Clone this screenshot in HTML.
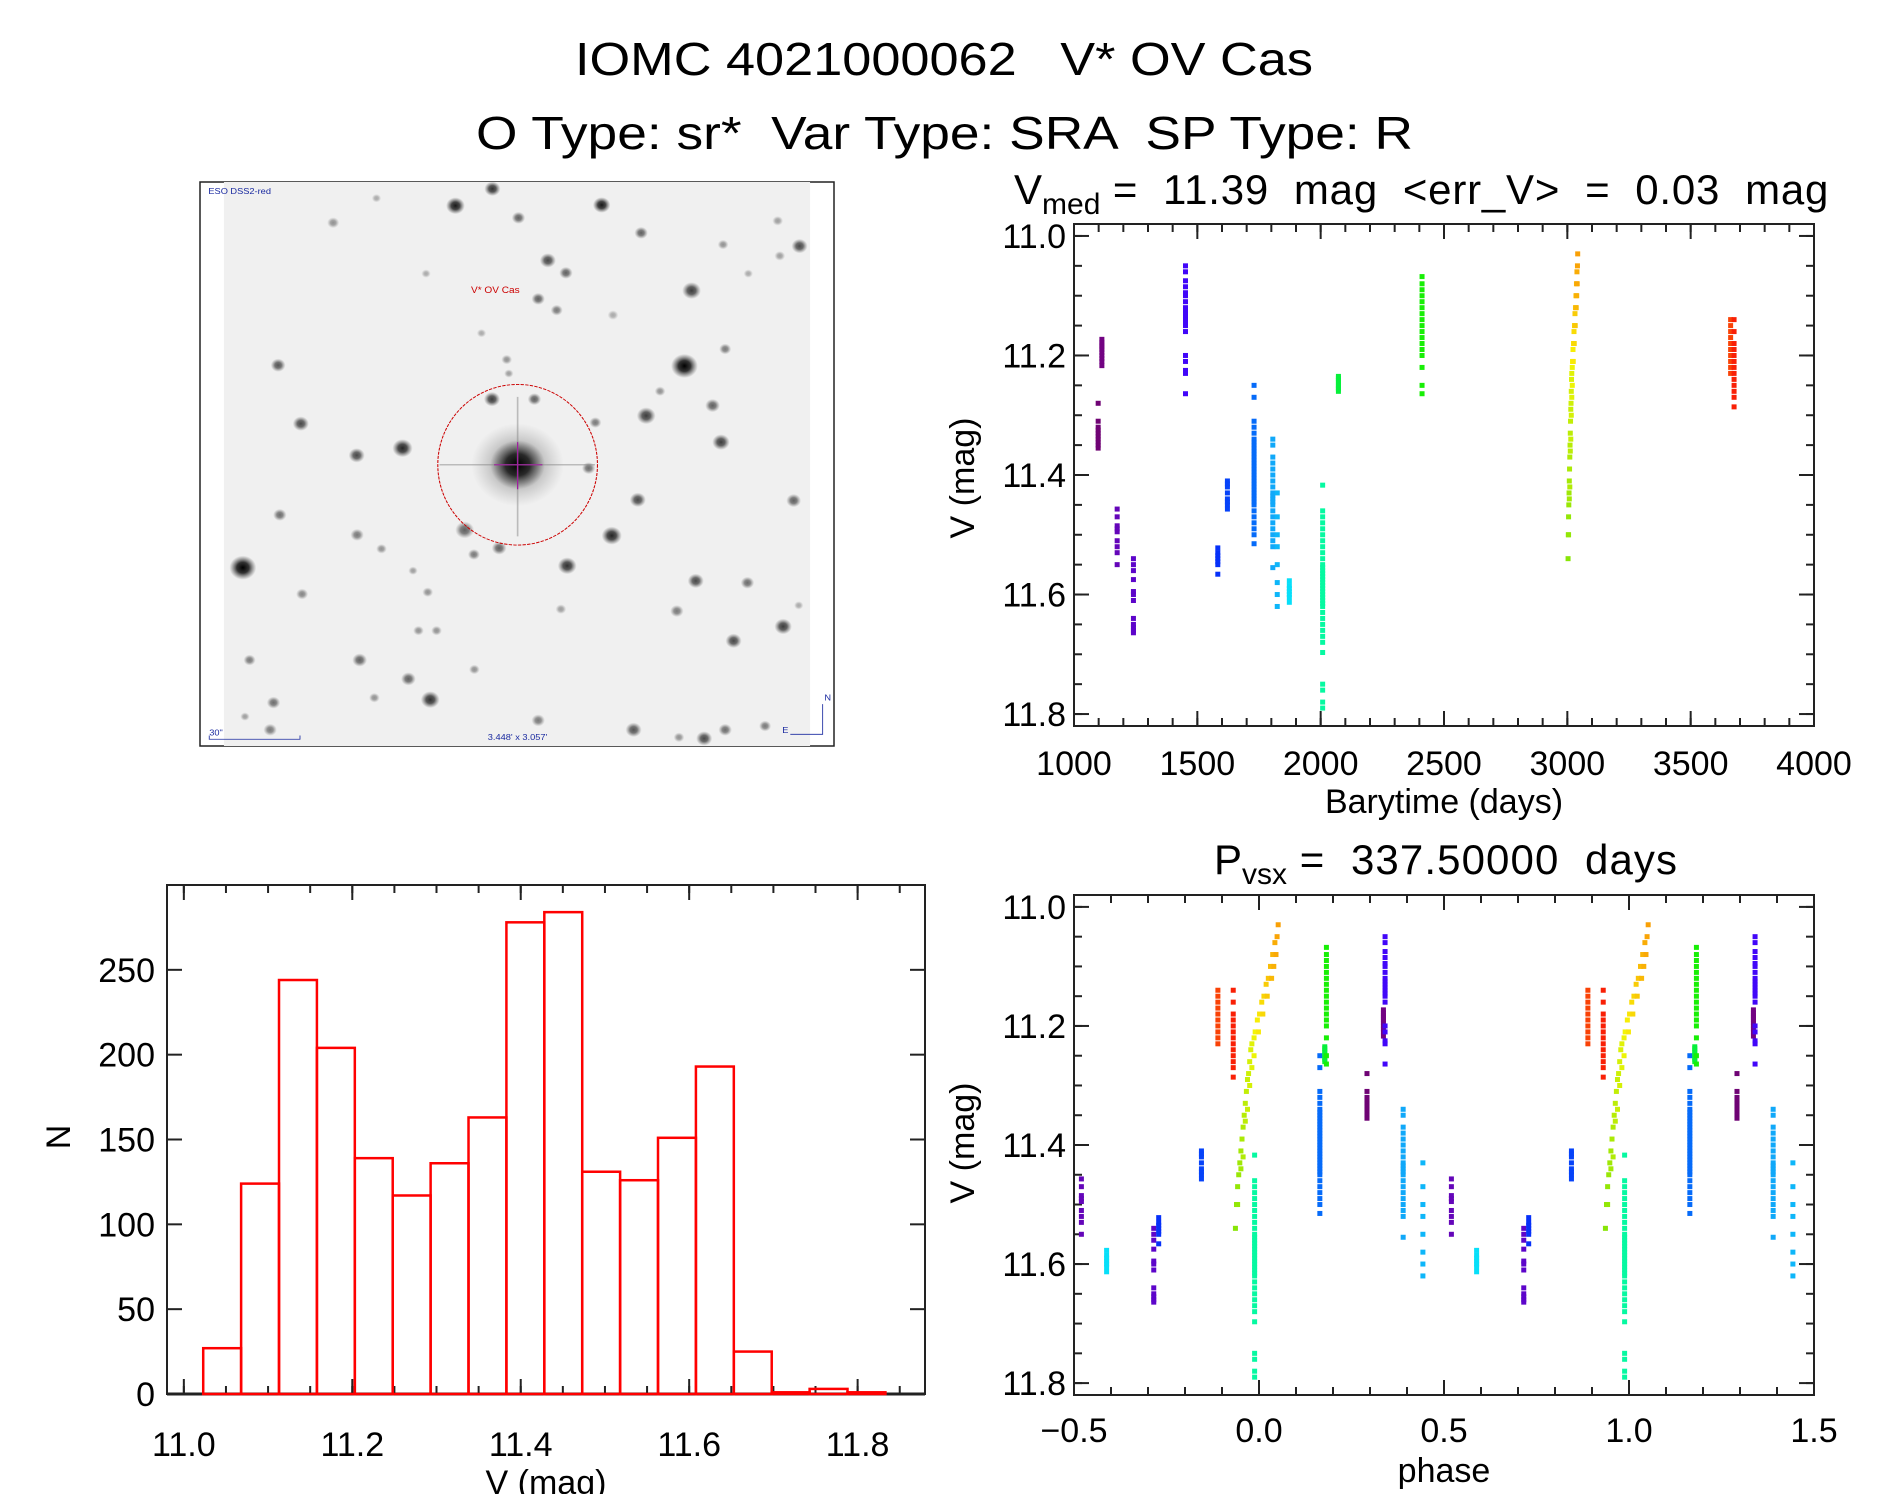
<!DOCTYPE html>
<html><head><meta charset="utf-8"><style>
html,body{margin:0;padding:0;background:#fff;}
svg{display:block;font-family:"Liberation Sans","DejaVu Sans",sans-serif;}
text{white-space:pre;}
</style></head><body>
<svg id="root" width="1889" height="1494" viewBox="0 0 1889 1494" xmlns="http://www.w3.org/2000/svg" xml:space="preserve">
<defs>
<radialGradient id="star"><stop offset="0" stop-color="#000" stop-opacity="1"/><stop offset="0.45" stop-color="#111" stop-opacity="0.85"/><stop offset="1" stop-color="#444" stop-opacity="0"/></radialGradient>
</defs>
<text x="575" y="75" font-size="46" textLength="738" lengthAdjust="spacingAndGlyphs">IOMC 4021000062   V* OV Cas</text>
<text x="476" y="149" font-size="46" textLength="937" lengthAdjust="spacingAndGlyphs">O Type: sr*  Var Type: SRA  SP Type: R</text>
<g id="img"></g>
<g id="lc"></g>
<g id="ph"></g>
<g id="hist"></g>
</svg>
<script>
// ---------- data ----------
const clusterTimes = [1098,1113,1175,1241,1452,1583,1622,1730,1806,1824,1873,2008,2072,2411,3662,3676];
const clusterMags = [
 [11.28,11.31,11.32,11.325,11.33,11.335,11.34,11.345,11.35,11.355],
 [11.173,11.178,11.182,11.186,11.19,11.195,11.2,11.205,11.21,11.217],
 [11.457,11.47,11.485,11.49,11.495,11.51,11.52,11.53,11.55],
 [11.54,11.55,11.56,11.575,11.595,11.6,11.61,11.64,11.65,11.655,11.66,11.664],
 [11.05,11.06,11.075,11.085,11.095,11.1,11.11,11.12,11.125,11.13,11.135,11.14,11.145,11.15,11.16,11.2,11.21,11.225,11.23,11.264],
 [11.522,11.53,11.535,11.54,11.545,11.55,11.566],
 [11.41,11.415,11.42,11.43,11.44,11.445,11.45,11.457],
 [11.25,11.27,11.31,11.32,11.33,11.34,11.345,11.35,11.355,11.36,11.365,11.37,11.375,11.38,11.385,11.39,11.395,11.40,11.405,11.41,11.415,11.42,11.425,11.43,11.435,11.44,11.445,11.45,11.46,11.47,11.48,11.49,11.50,11.515],
 [11.34,11.35,11.37,11.38,11.39,11.40,11.41,11.42,11.43,11.435,11.44,11.445,11.45,11.46,11.47,11.48,11.49,11.50,11.51,11.52,11.555],
 [11.43,11.47,11.5,11.52,11.55,11.58,11.6,11.62],
 [11.577,11.585,11.59,11.595,11.6,11.605,11.613],
 [11.417,11.46,11.47,11.48,11.49,11.5,11.51,11.52,11.53,11.54,11.55,11.555,11.56,11.565,11.57,11.575,11.58,11.585,11.59,11.595,11.6,11.605,11.61,11.615,11.62,11.63,11.64,11.65,11.66,11.67,11.68,11.697,11.75,11.76,11.78,11.79],
 [11.235,11.238,11.242,11.245,11.25,11.253,11.256,11.26],
 [11.068,11.08,11.09,11.1,11.11,11.12,11.13,11.14,11.15,11.16,11.17,11.18,11.19,11.2,11.22,11.25,11.264],
 [11.14,11.15,11.16,11.17,11.18,11.19,11.2,11.21,11.22,11.23],
 [11.14,11.16,11.18,11.19,11.2,11.21,11.22,11.23,11.24,11.25,11.26,11.27,11.286]
];
const rampTimes = [3003,3004,3005,3006,3007,3008,3009,3010,3011,3012,3013,3014,3015,3016,3017,3018,3020,3021,3023,3025,3027,3029,3031,3033,3035,3037,3039,3041,3042,3005,3008,3012,3016,3020,3024,3028,3032,3036,3040,3038,3010,3014,3018];
const rampMags  = [11.54,11.5,11.47,11.45,11.43,11.41,11.39,11.37,11.35,11.33,11.31,11.29,11.28,11.26,11.24,11.23,11.22,11.21,11.19,11.18,11.16,11.15,11.13,11.12,11.1,11.08,11.06,11.05,11.03,11.5,11.44,11.36,11.3,11.25,11.21,11.18,11.15,11.12,11.08,11.1,11.42,11.34,11.27];
const period = 337.5;
const epoch = 2012;
const histBinStart = 11.023;
const histBinWidth = 0.045;
const histCounts = [27,124,244,204,139,117,136,163,278,284,131,126,151,193,25,1,3,1];
const timeTicks = [1000,1500,2000,2500,3000,3500,4000];
const magTicks = [11.0,11.2,11.4,11.6,11.8];
const phaseTicks = [-0.5,0.0,0.5,1.0,1.5];
const histXTicks = [11.0,11.2,11.4,11.6,11.8];
const histYTicks = [0,50,100,150,200,250];

// ---------- helpers ----------
const NS='http://www.w3.org/2000/svg';
function mk(tag,attrs,parent){const e=document.createElementNS(NS,tag);for(const k in attrs)e.setAttribute(k,attrs[k]);parent.appendChild(e);return e;}
function lin(d0,d1,r0,r1){return v=>r0+(v-d0)/(d1-d0)*(r1-r0);}
const colorStops=[[1090,300,22],[1180,270,38],[1450,255,50],[1590,228,50],[1730,215,50],[1810,200,52],[1880,185,50],[2010,158,50],[2080,130,48],[2420,115,48],[3003,85,46],[3025,55,50],[3042,38,50],[3660,16,50],[3680,4,50]];
function colorFor(t){
  let s=colorStops;
  if(t<=s[0][0])return `hsl(${s[0][1]},90%,${s[0][2]}%)`;
  for(let i=1;i<s.length;i++){if(t<=s[i][0]){const f=(t-s[i-1][0])/(s[i][0]-s[i-1][0]);return `hsl(${s[i-1][1]+f*(s[i][1]-s[i-1][1])},95%,${s[i-1][2]+f*(s[i][2]-s[i-1][2])}%)`;}}
  return `hsl(${s[s.length-1][1]},95%,50%)`;
}
function frame(g,L,T,R,B,xs,ys,xMaj,xMin,yMaj,yMin){
  mk('rect',{x:L,y:T,width:R-L,height:B-T,fill:'none',stroke:'#222','stroke-width':2},g);
  const tick=(x1,y1,x2,y2)=>mk('line',{x1,y1,x2,y2,stroke:'#222','stroke-width':2},g);
  xMaj.forEach(v=>{const x=xs(v);tick(x,B,x,B-15);tick(x,T,x,T+15);});
  xMin.forEach(v=>{const x=xs(v);tick(x,B,x,B-8);tick(x,T,x,T+8);});
  yMaj.forEach(v=>{const y=ys(v);tick(L,y,L+15,y);tick(R,y,R-15,y);});
  yMin.forEach(v=>{const y=ys(v);tick(L,y,L+8,y);tick(R,y,R-8,y);});
}
function range(a,b,s){const r=[];for(let v=a;v<=b+1e-9;v+=s)r.push(+v.toFixed(4));return r;}
function label(g,x,y,txt,anchor,size,name){const t=mk('text',{x,y,'font-size':size||34,'text-anchor':anchor||'middle',fill:'#000'},g);t.textContent=txt;
  
  
  return t;}
function phaseOf(t){let p=((t-epoch)/period)%1;if(p<0)p+=1;if(p>=0.5)p-=1;return p;}
const allPts=[];
clusterTimes.forEach((t,i)=>clusterMags[i].forEach(m=>allPts.push([t,m])));
rampTimes.forEach((t,i)=>allPts.push([t,rampMags[i]]));

// ---------- light curve ----------
(function(){
  const g=document.getElementById('lc');
  const L=1074,R=1814,T=224,B=726;
  const xs=lin(1000,4000,L,R), ys=lin(10.98,11.82,T,B);
  frame(g,L,T,R,B,xs,ys,timeTicks,range(1000,4000,100),magTicks,range(11.0,11.8,0.05));
  allPts.forEach(p=>{const c=mk('rect',{x:xs(p[0])-2.5,y:ys(p[1])-2.5,width:5,height:5,fill:colorFor(p[0])},g);
    
    });
  timeTicks.forEach(v=>label(g,xs(v),775,String(v),'middle',34,'x-tick-label'));
  magTicks.forEach(v=>label(g,L-8,ys(v)+12,v.toFixed(1),'end',34,'y-tick-label'));
  label(g,(L+R)/2,813,'Barytime (days)','middle',34,'x-axis-title');
  const yt=label(g,0,0,'V (mag)','middle',34,'y-axis-title');yt.setAttribute('transform','translate(974,478) rotate(-90)');
  const tt=mk('text',{x:1014,y:204,'font-size':42,fill:'#000'},g);
  
  
  tt.innerHTML='V<tspan font-size="30" dy="10">med</tspan><tspan dy="-10" textLength="728" lengthAdjust="spacing"> =  11.39  mag  &lt;err_V&gt;  =  0.03  mag</tspan>';
})();

// ---------- phase plot ----------
(function(){
  const g=document.getElementById('ph');
  const L=1074,R=1814,T=895,B=1395;
  const xs=lin(-0.5,1.5,L,R), ys=lin(10.98,11.82,T,B);
  frame(g,L,T,R,B,xs,ys,phaseTicks,range(-0.5,1.5,0.1),magTicks,range(11.0,11.8,0.05));
  allPts.forEach(p=>{const ph=phaseOf(p[0]);[ph,ph+1].forEach(x=>{
    const c=mk('rect',{x:xs(x)-2.5,y:ys(p[1])-2.5,width:5,height:5,fill:colorFor(p[0])},g);
    
    });});
  phaseTicks.forEach(v=>label(g,xs(v),1442,(v<0?'\u2212':'')+Math.abs(v).toFixed(1),'middle',34,'x-tick-label'));
  magTicks.forEach(v=>label(g,L-8,ys(v)+12,v.toFixed(1),'end',34,'y-tick-label'));
  label(g,(L+R)/2,1482,'phase','middle',34,'x-axis-title');
  const yt=label(g,0,0,'V (mag)','middle',34,'y-axis-title');yt.setAttribute('transform','translate(974,1143) rotate(-90)');
  const tt=mk('text',{x:1214,y:874,'font-size':42,fill:'#000'},g);
  
  
  tt.innerHTML='P<tspan font-size="30" dy="10">vsx</tspan><tspan dy="-10" textLength="390" lengthAdjust="spacing"> =  337.50000  days</tspan>';
})();

// ---------- histogram ----------
(function(){
  const g=document.getElementById('hist');
  const L=167,R=925,T=885,B=1394;
  const xs=lin(10.98,11.88,L,R), ys=lin(0,300,B,T);
  frame(g,L,T,R,B,xs,ys,histXTicks,range(11.0,11.85,0.05),histYTicks,[]);
  mk('line',{x1:L,y1:B,x2:R,y2:B,stroke:'#222','stroke-width':3},g);
  histCounts.forEach((c,i)=>{const x0=xs(histBinStart+i*histBinWidth),x1=xs(histBinStart+(i+1)*histBinWidth);
    const r=mk('rect',{x:x0,y:ys(c),width:x1-x0,height:B-ys(c),fill:'none',stroke:'#f00','stroke-width':2.5},g);
    
    });
  histXTicks.forEach(v=>label(g,xs(v),1456,v.toFixed(1),'middle',34,'x-tick-label'));
  histYTicks.forEach(v=>label(g,L-12,ys(v)+12,String(v),'end',34,'y-tick-label'));
  label(g,(L+R)/2,1494,'V (mag)','middle',34,'x-axis-title');
  const yt=label(g,0,0,'N','middle',34,'y-axis-title');yt.setAttribute('transform','translate(70,1137) rotate(-90)');
})();

// ---------- sky image ----------
(function(){
  const g=document.getElementById('img');
  const FX=200,FY=182,FW=634,FH=564;
  mk('rect',{x:FX,y:FY,width:FW,height:FH,fill:'none',stroke:'#222','stroke-width':1.5},g);
  const s=mk('svg',{x:FX,y:FY,width:FW,height:FH,viewBox:'0 0 1509 1496',preserveAspectRatio:'none'},g);
  mk('rect',{x:57,y:0,width:1395,height:1496,fill:'#f0f0f0'},s);
  const stars=[[706,35,12,.8],[618,80,14,.9],[966,78,13,.9],[768,112,10,.6],[327,125,9,.4],[1060,152,10,.6],[1437,187,12,.7],[1255,183,8,.4],[838,225,12,.7],[881,258,10,.6],[548,260,7,.3],[1180,305,14,.75],[815,327,10,.6],[859,357,9,.5],[993,370,8,.3],[1260,460,9,.5],[680,418,7,.3],[196,503,11,.65],[1163,505,20,1],[740,488,8,.4],[745,525,7,.35],[1105,572,8,.4],[1230,610,11,.6],[1072,637,14,.75],[705,593,12,.75],[806,593,10,.6],[951,655,9,.5],[250,658,12,.7],[492,723,15,.85],[383,742,12,.7],[1250,707,13,.75],[935,776,10,.55],[1052,860,12,.7],[1423,862,11,.6],[200,900,10,.55],[640,940,14,.6],[990,955,15,.85],[384,953,10,.5],[722,988,11,.6],[662,1005,9,.5],[442,990,8,.4],[112,1040,20,1],[884,1035,14,.8],[1190,1075,12,.7],[1313,1080,10,.55],[517,1048,7,.35],[253,1110,9,.45],[552,1105,8,.4],[1145,1155,10,.5],[869,1150,8,.35],[1398,1196,13,.75],[1280,1234,12,.7],[530,1207,8,.4],[573,1207,8,.4],[128,1285,9,.5],[390,1285,11,.6],[506,1335,11,.6],[663,1310,8,.4],[558,1390,14,.8],[185,1398,10,.55],[425,1385,8,.4],[815,1445,10,.5],[177,1470,10,.5],[1042,1470,12,.65],[1210,1493,12,.7],[1260,1470,10,.55],[1355,1460,9,.5],[117,1435,7,.35],[1150,1490,8,.4],[1435,1140,7,.3],[1315,260,7,.3],[1390,213,8,.35],[430,60,7,.3],[1385,120,8,.35]];
  stars.forEach(st=>mk('circle',{cx:st[0]-10,cy:st[1]-17,r:st[2]*1.6,fill:'url(#star)',opacity:st[3]},s));
  mk('circle',{cx:756,cy:750,r:110,fill:'url(#star)',opacity:0.3},s);
  mk('circle',{cx:756,cy:750,r:65,fill:'url(#star)',opacity:1},s);
  mk('line',{x1:570,y1:750,x2:940,y2:750,stroke:'#888','stroke-width':4,opacity:.5},s);
  mk('line',{x1:756,y1:570,x2:756,y2:940,stroke:'#888','stroke-width':4,opacity:.5},s);
  mk('line',{x1:700,y1:750,x2:815,y2:750,stroke:'#a020a0','stroke-width':3},s);
  mk('line',{x1:756,y1:690,x2:756,y2:815,stroke:'#a020a0','stroke-width':3},s);
  mk('ellipse',{cx:756,cy:750,rx:190,ry:213,fill:'none',stroke:'#c00','stroke-width':2.5,'stroke-dasharray':'8 3'},s);
  const t1=mk('text',{x:20,y:32,'font-size':22,fill:'#1a2aa0'},s);t1.textContent='ESO DSS2-red';
  
  
  const t2=mk('text',{x:645,y:295,'font-size':24,fill:'#c00'},s);t2.textContent='V* OV Cas';
  
  
  const t3=mk('text',{x:685,y:1480,'font-size':22,fill:'#1a2aa0'},s);t3.textContent="3.448' x 3.057'";
  
  
  const t4=mk('text',{x:22,y:1468,'font-size':22,fill:'#1a2aa0'},s);t4.textContent='30"';
  
  
  mk('polyline',{points:'22,1468 22,1478 238,1478 238,1468',fill:'none',stroke:'#1a2aa0','stroke-width':2},s);
  mk('polyline',{points:'1405,1465 1482,1465 1482,1385',fill:'none',stroke:'#1a2aa0','stroke-width':2},s);
  const t5=mk('text',{x:1486,y:1375,'font-size':22,fill:'#1a2aa0'},s);t5.textContent='N';
  
  
  const t6=mk('text',{x:1386,y:1462,'font-size':22,fill:'#1a2aa0'},s);t6.textContent='E';
  
  
})();
</script>
</body></html>
